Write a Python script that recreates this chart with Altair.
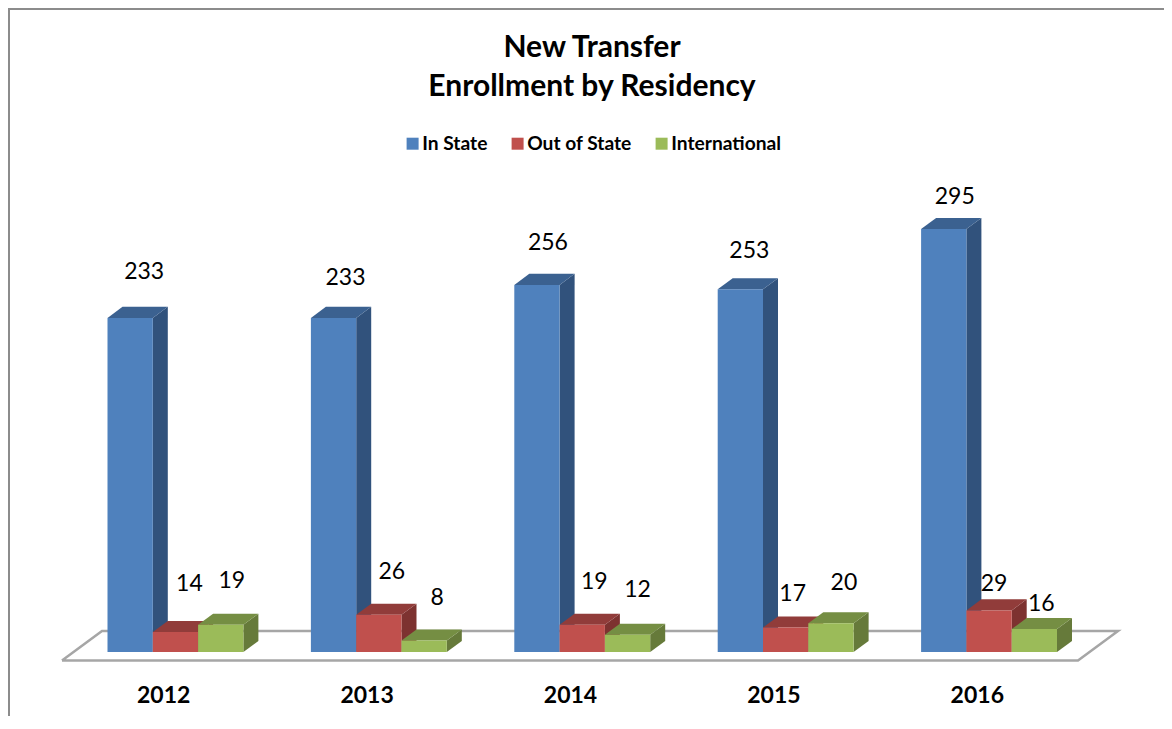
import altair as alt
import pandas as pd

# --- data ---
years = ["2012", "2013", "2014", "2015", "2016"]
series = ["In State", "Out of State", "International"]
in_state = [233, 233, 256, 253, 295]
out_of_state = [14, 26, 19, 17, 29]
international = [19, 8, 12, 20, 16]
front_colors = ["#4f81bd", "#c0504d", "#9bbb59"]
side_colors = ["#31527c", "#7d3230", "#667a3a"]
top_colors = ["#3b6190", "#913c3a", "#758e43"]

# --- layout (x axis units = screen pixels, y axis units = enrollment) ---
FONT = "Lato"
W, H = 1156, 708
first_bar, group_step, bar_w = 107.5, 203.4, 45.3
depth_x, depth_v = 15, 7.7
px_per_unit = 1.434
base_px = 652
year_label_dx = 56.2
# label placement relative to the front centre of the bar (screen px), per series per year
label_dx = [[14, 12, 11, 9, 11], [14, 13, 12, 7, 5], [11, 13, 10, 13, 7]]
label_dy = [[-46, -40, -42, -38, -32], [-48, -43, -43, -34, -26], [-44, -43, -45, -40, -25]]
floor_x = [62, 102, 1118, 1078, 62]
floor_v = [-6, 14.6, 14.6, -6, -6]

x_scale = alt.Scale(domain=[8, 8 + W], range=[0, W], nice=False, zero=False)
y_scale = alt.Scale(domain=[(base_px - 8 - H) / px_per_unit, (base_px - 8) / px_per_unit],
                    range=[H, 0], nice=False, zero=False)
X = lambda f: alt.X(f, type="quantitative", scale=x_scale, axis=None)
Y = lambda f: alt.Y(f, type="quantitative", scale=y_scale, axis=None, stack=None)

values = [in_state, out_of_state, international]
front, faces, labels = [], [], []
for s, name in enumerate(series):
    for g, year in enumerate(years):
        v = values[s][g]
        x0 = first_bar + g * group_step + s * bar_w
        x1 = x0 + bar_w
        front.append(dict(series=name, x0=x0, x1=x1, v=v, base=0))
        bar = f"{name}-{year}"
        for xx, a, b in [(x1, v, 0), (x1 + depth_x, v + depth_v, depth_v)]:
            faces.append(dict(series=name, face="side", bar=bar, x=xx, a=a, b=b))
        for xx, a, b in [(x0, v, v), (x0 + depth_x, v + depth_v, v),
                         (x1, v + depth_v, v), (x1 + depth_x, v + depth_v, v + depth_v)]:
            faces.append(dict(series=name, face="top", bar=bar, x=xx, a=a, b=b))
        labels.append(dict(series=name, text=str(v),
                           x=(x0 + x1) / 2 + label_dx[s][g],
                           y=v + (-label_dy[s][g]) / px_per_unit))
front = pd.DataFrame(front)
faces = pd.DataFrame(faces)
labels = pd.DataFrame(labels)
floor = pd.DataFrame(dict(x=floor_x, v=floor_v, i=range(len(floor_x))))
year_df = pd.DataFrame(dict(year=years,
                            x=[first_bar + year_label_dx + g * group_step for g in range(len(years))],
                            v=[(base_px - 696) / px_per_unit] * len(years)))

layers = [
    alt.Chart(floor).mark_line(color="#a6a6a6", strokeWidth=2.5).encode(
        x=X("x"), y=Y("v"), order="i:Q")
]
for s, name in enumerate(series):
    fc = faces[faces.series == name]
    layers.append(alt.Chart(fc[fc.face == "side"]).mark_area(orient="vertical", color=side_colors[s], opacity=1).encode(
        x=X("x"), y=Y("a"), y2=alt.Y2("b"), detail="bar:N"))
    layers.append(alt.Chart(fc[fc.face == "top"]).mark_area(orient="vertical", color=top_colors[s], opacity=1).encode(
        x=X("x"), y=Y("a"), y2=alt.Y2("b"), detail="bar:N"))
    layers.append(alt.Chart(front[front.series == name]).mark_bar().encode(
        x=X("x0"), x2="x1", y=Y("v"), y2="base",
        color=alt.Color("series:N", scale=alt.Scale(domain=series, range=front_colors),
                        legend=alt.Legend(title=None, orient="none", legendX=395, legendY=126,
                                          direction="horizontal", columns=3, symbolType="square",
                                          symbolSize=144, symbolStrokeWidth=0, symbolOpacity=1,
                                          labelFont=FONT, labelFontSize=19.2, labelFontWeight="bold",
                                          labelColor="#000000", labelOffset=0, columnPadding=20,
                                          labelLimit=300))))
layers.append(alt.Chart(labels).mark_text(font=FONT, fontSize=23, color="#000000", baseline="middle").encode(
    x=X("x"), y=Y("y"), text="text:N"))
layers.append(alt.Chart(year_df).mark_text(font=FONT, fontSize=23, fontWeight="bold", color="#000000",
                                           baseline="middle").encode(x=X("x"), y=Y("v"), text="year:N"))
# chart frame
layers.append(alt.Chart(pd.DataFrame({"a": [0]})).mark_rule(color="#8c8c8c", strokeWidth=2).encode(
    x=alt.value(0), x2=alt.value(W), y=alt.value(1)))
layers.append(alt.Chart(pd.DataFrame({"a": [0]})).mark_rule(color="#8c8c8c", strokeWidth=2).encode(
    x=alt.value(1), y=alt.value(0), y2=alt.value(H)))

chart = alt.layer(*layers).properties(
    width=W, height=H,
    padding=0,
    autosize=alt.AutoSizeParams(type="none"),
    title=alt.TitleParams(text=["New Transfer", "Enrollment by Residency"], font=FONT, fontSize=30,
                          fontWeight="bold", color="#000000", lineHeight=39, anchor="middle",
                          baseline="top", offset=0, dy=95, dx=6),
).configure_view(stroke=None)

chart.save("out.html", embed_options={"renderer": "svg", "actions": False})
